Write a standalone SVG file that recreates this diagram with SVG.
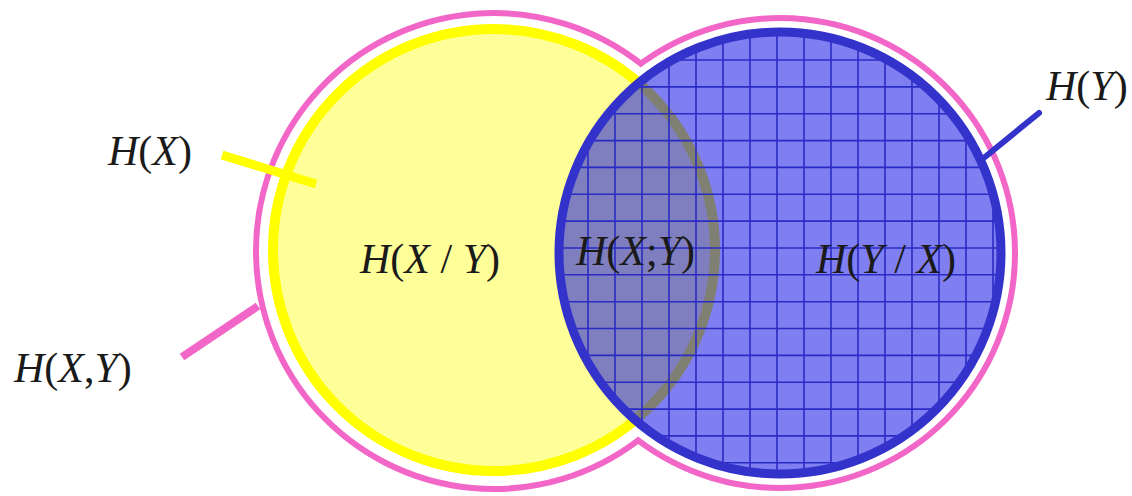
<svg xmlns="http://www.w3.org/2000/svg" width="1132" height="496" viewBox="0 0 1132 496">
  <style>
    .lbl { font-family: "Liberation Serif", "Times New Roman", serif; font-size: 42px; fill: #1a1a1a; }
    .it { font-style: italic; }
    .grid line { stroke: #2a2ac4; stroke-width: 1.6; }
  </style>
  <defs>
    <clipPath id="blueClip">
      <circle cx="780" cy="253" r="221"/>
    </clipPath>
  </defs>
  <rect width="1132" height="496" fill="#ffffff"/>

  <g id="HXY-outline">
    <path d="M 640.8 63.67 A 238 238 0 1 0 638.17 440.37 A 235 235 0 1 0 640.8 63.67 Z" fill="none" stroke="#f266c8" stroke-width="6"/>
  </g>

  <g id="HX-circle">
    <circle cx="494" cy="250" r="221" fill="#ffff99" stroke="#ffff00" stroke-width="10"/>
  </g>

  <g id="HY-circle">
    <circle cx="780" cy="253" r="221" fill="#0000e6" fill-opacity="0.5"/>
    <g class="grid" clip-path="url(#blueClip)">
      <line x1="588" y1="0" x2="588" y2="496"/>
      <line x1="615" y1="0" x2="615" y2="496"/>
      <line x1="642" y1="0" x2="642" y2="496"/>
      <line x1="669" y1="0" x2="669" y2="496"/>
      <line x1="696" y1="0" x2="696" y2="496"/>
      <line x1="723" y1="0" x2="723" y2="496"/>
      <line x1="750" y1="0" x2="750" y2="496"/>
      <line x1="777" y1="0" x2="777" y2="496"/>
      <line x1="804" y1="0" x2="804" y2="496"/>
      <line x1="831" y1="0" x2="831" y2="496"/>
      <line x1="858" y1="0" x2="858" y2="496"/>
      <line x1="885" y1="0" x2="885" y2="496"/>
      <line x1="912" y1="0" x2="912" y2="496"/>
      <line x1="939" y1="0" x2="939" y2="496"/>
      <line x1="966" y1="0" x2="966" y2="496"/>
      <line x1="993" y1="0" x2="993" y2="496"/>
      <line x1="540" y1="60" x2="1020" y2="60"/>
      <line x1="540" y1="86.9" x2="1020" y2="86.9"/>
      <line x1="540" y1="113.7" x2="1020" y2="113.7"/>
      <line x1="540" y1="140.6" x2="1020" y2="140.6"/>
      <line x1="540" y1="167.4" x2="1020" y2="167.4"/>
      <line x1="540" y1="194.3" x2="1020" y2="194.3"/>
      <line x1="540" y1="221.1" x2="1020" y2="221.1"/>
      <line x1="540" y1="248" x2="1020" y2="248"/>
      <line x1="540" y1="274.8" x2="1020" y2="274.8"/>
      <line x1="540" y1="301.7" x2="1020" y2="301.7"/>
      <line x1="540" y1="328.5" x2="1020" y2="328.5"/>
      <line x1="540" y1="355.4" x2="1020" y2="355.4"/>
      <line x1="540" y1="382.2" x2="1020" y2="382.2"/>
      <line x1="540" y1="409.1" x2="1020" y2="409.1"/>
      <line x1="540" y1="435.9" x2="1020" y2="435.9"/>
      <line x1="540" y1="462.8" x2="1020" y2="462.8"/>
    </g>
    <circle cx="780" cy="253" r="221" fill="none" stroke="#3333cc" stroke-width="9"/>
  </g>

  <g id="connectors">
    <line x1="222" y1="155" x2="316" y2="184" stroke="#ffff00" stroke-width="9"/>
    <line x1="182" y1="357" x2="258" y2="306" stroke="#f266c8" stroke-width="8"/>
    <line x1="1039" y1="113" x2="985" y2="157" stroke="#3333cc" stroke-width="6" stroke-linecap="round"/>
  </g>

  <g id="labels">
    <text class="lbl" x="108" y="165"><tspan class="it">H</tspan>(<tspan class="it">X</tspan>)</text>
    <text class="lbl" x="1046" y="100"><tspan class="it">H</tspan>(<tspan class="it">Y</tspan>)</text>
    <text class="lbl" x="14" y="382"><tspan class="it">H</tspan>(<tspan class="it">X</tspan>,<tspan class="it">Y</tspan>)</text>
    <text class="lbl" x="360" y="273"><tspan class="it">H</tspan>(<tspan class="it">X</tspan> / <tspan class="it">Y</tspan>)</text>
    <text class="lbl" x="576" y="265"><tspan class="it">H</tspan>(<tspan class="it">X</tspan>;<tspan class="it">Y</tspan>)</text>
    <text class="lbl" x="816" y="273"><tspan class="it">H</tspan>(<tspan class="it">Y</tspan> / <tspan class="it">X</tspan>)</text>
  </g>
</svg>
